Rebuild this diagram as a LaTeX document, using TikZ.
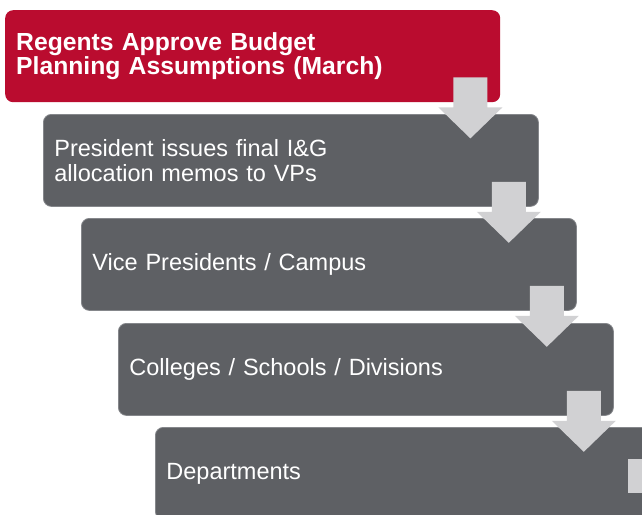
\documentclass[tikz,border=0pt]{standalone}
\usepackage{fontspec}
\setmainfont{Liberation Sans}
\usetikzlibrary{calc}
\definecolor{stepred}{HTML}{BA0C2F}
\definecolor{stepgray}{HTML}{5E6064}
\definecolor{stepedge}{HTML}{85878B}
\definecolor{arrowgray}{HTML}{D1D1D3}
\begin{document}
\begin{tikzpicture}[x=1pt,y=-1pt,
  stagebox/.style={rectangle, rounded corners=8pt, anchor=north west,
    minimum width=495pt, minimum height=92pt, inner xsep=11pt, inner ysep=0pt,
    text width=473pt, align=left, text=white},
  graybox/.style={stagebox, fill=stepgray, draw=stepedge, line width=0.8pt,
    font=\fontsize{23.5}{25.5}\selectfont},
  redbox/.style={stagebox, fill=stepred,
    font=\fontsize{24.7}{24}\selectfont\bfseries},
  downarrow/.style={fill=arrowgray, draw=none}]
\useasboundingbox (0,0) rectangle (642,514);
\clip (0,0) rectangle (642,514);
\fill[white] (0,0) rectangle (642,514);

% the cascade of stages
\node[redbox]  (b1) at (5,10)   {Regents Approve Budget\\Planning Assumptions (March)};
\node[graybox] (b2) at (43,114) {President issues final I\&G\\allocation memos to VPs};
\node[graybox] (b3) at (81,218) {Vice Presidents / Campus};
\node[graybox] (b4) at (118,323) {Colleges / Schools / Divisions};
\node[graybox] (b5) at (155,427) {Departments};

% block arrows handing each stage down to the next
\foreach \s in {1,2,3,4}{
  \coordinate (a\s) at ($(b\s.south east)+(-30,0)$);
  \fill[downarrow] (a\s) ++(-17,-25) -- ++(34,0) -- ++(0,30) -- ++(15,0)
    -- ++(-32,31) -- ++(-32,-31) -- ++(15,0) -- cycle;
}
% start of the next arrow at the lower right
\fill[downarrow] ($(b5.north east)+(-23,32)$) rectangle ++(20,34);
\end{tikzpicture}
\end{document}
